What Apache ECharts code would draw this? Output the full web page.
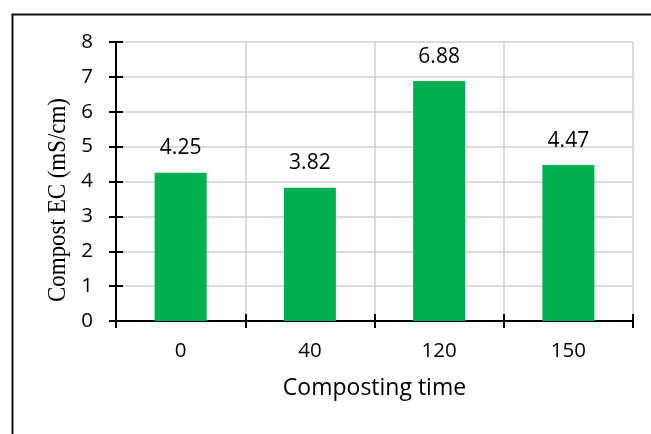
<!DOCTYPE html>
<html><head><meta charset="utf-8">
<script src="https://cdn.jsdelivr.net/npm/echarts@6/dist/echarts.min.js"></script>
<style>html,body{margin:0;padding:0;background:#fff}#c{width:651px;height:434px}</style>
</head><body><div id="c"></div>
<script>
const categories = ['0', '40', '120', '150'];
const ecValues = [4.25, 3.82, 6.88, 4.47];
const yTicks = [0, 1, 2, 3, 4, 5, 6, 7, 8];
const xTitle = 'Composting time';
const yTitle = 'Compost EC (mS/cm)';

const chart = echarts.init(document.getElementById('c'));
const sans = 'Open Sans';
chart.setOption({
  animation: false,
  graphic: [{
    type: 'rect', left: 10, top: 12,
    shape: { width: 700, height: 500 },
    style: { fill: 'none', stroke: '#111', lineWidth: 2 }, z: 10
  }, {
    type: 'text', x: 58, y: 200, rotation: Math.PI / 2, scaleX: 0.9,
    style: { text: yTitle, fontFamily: 'Liberation Serif', fontSize: 25.5, fill: '#000',
             textAlign: 'center', textVerticalAlign: 'middle' }
  }],
  grid: { left: 116, right: 18, top: 42, bottom: 113 },
  xAxis: [{
    type: 'category', data: categories,
    name: xTitle, nameLocation: 'middle', nameGap: 56,
    nameTextStyle: { fontFamily: sans, fontSize: 23, color: '#000' },
    axisLine: { lineStyle: { color: '#000', width: 2 } },
    axisTick: { show: true, length: 7, lineStyle: { color: '#000', width: 2 } },
    axisLabel: { fontFamily: sans, fontSize: 20.5, color: '#000', margin: 20 },
    splitLine: { show: true, lineStyle: { color: '#cfcfcf', width: 1.5 } }
  }, {
    type: 'category', data: categories, position: 'bottom',
    axisLine: { show: false },
    axisTick: { show: true, inside: true, length: 7, lineStyle: { color: '#000', width: 2 } },
    axisLabel: { show: false }, splitLine: { show: false }
  }],
  yAxis: [{
    type: 'value', min: yTicks[0], max: yTicks[yTicks.length - 1], interval: 1,
    axisLine: { show: true, lineStyle: { color: '#000', width: 2 } },
    axisTick: { show: true, length: 7, lineStyle: { color: '#000', width: 2 } },
    axisLabel: { fontFamily: sans, fontSize: 20.5, color: '#000', margin: 23 },
    splitLine: { show: true, lineStyle: { color: '#cfcfcf', width: 1.5 } }
  }, {
    type: 'value', min: yTicks[0], max: yTicks[yTicks.length - 1], interval: 1, position: 'left',
    axisLine: { show: false },
    axisTick: { show: true, inside: true, length: 7, lineStyle: { color: '#000', width: 2 } },
    axisLabel: { show: false }, splitLine: { show: false }
  }],
  series: [{
    type: 'bar', data: ecValues, barWidth: 52,
    itemStyle: { color: '#00B050' },
    label: { show: true, position: 'top', distance: 14, fontFamily: sans, fontSize: 21, color: '#000' }
  }]
});
</script></body></html>
